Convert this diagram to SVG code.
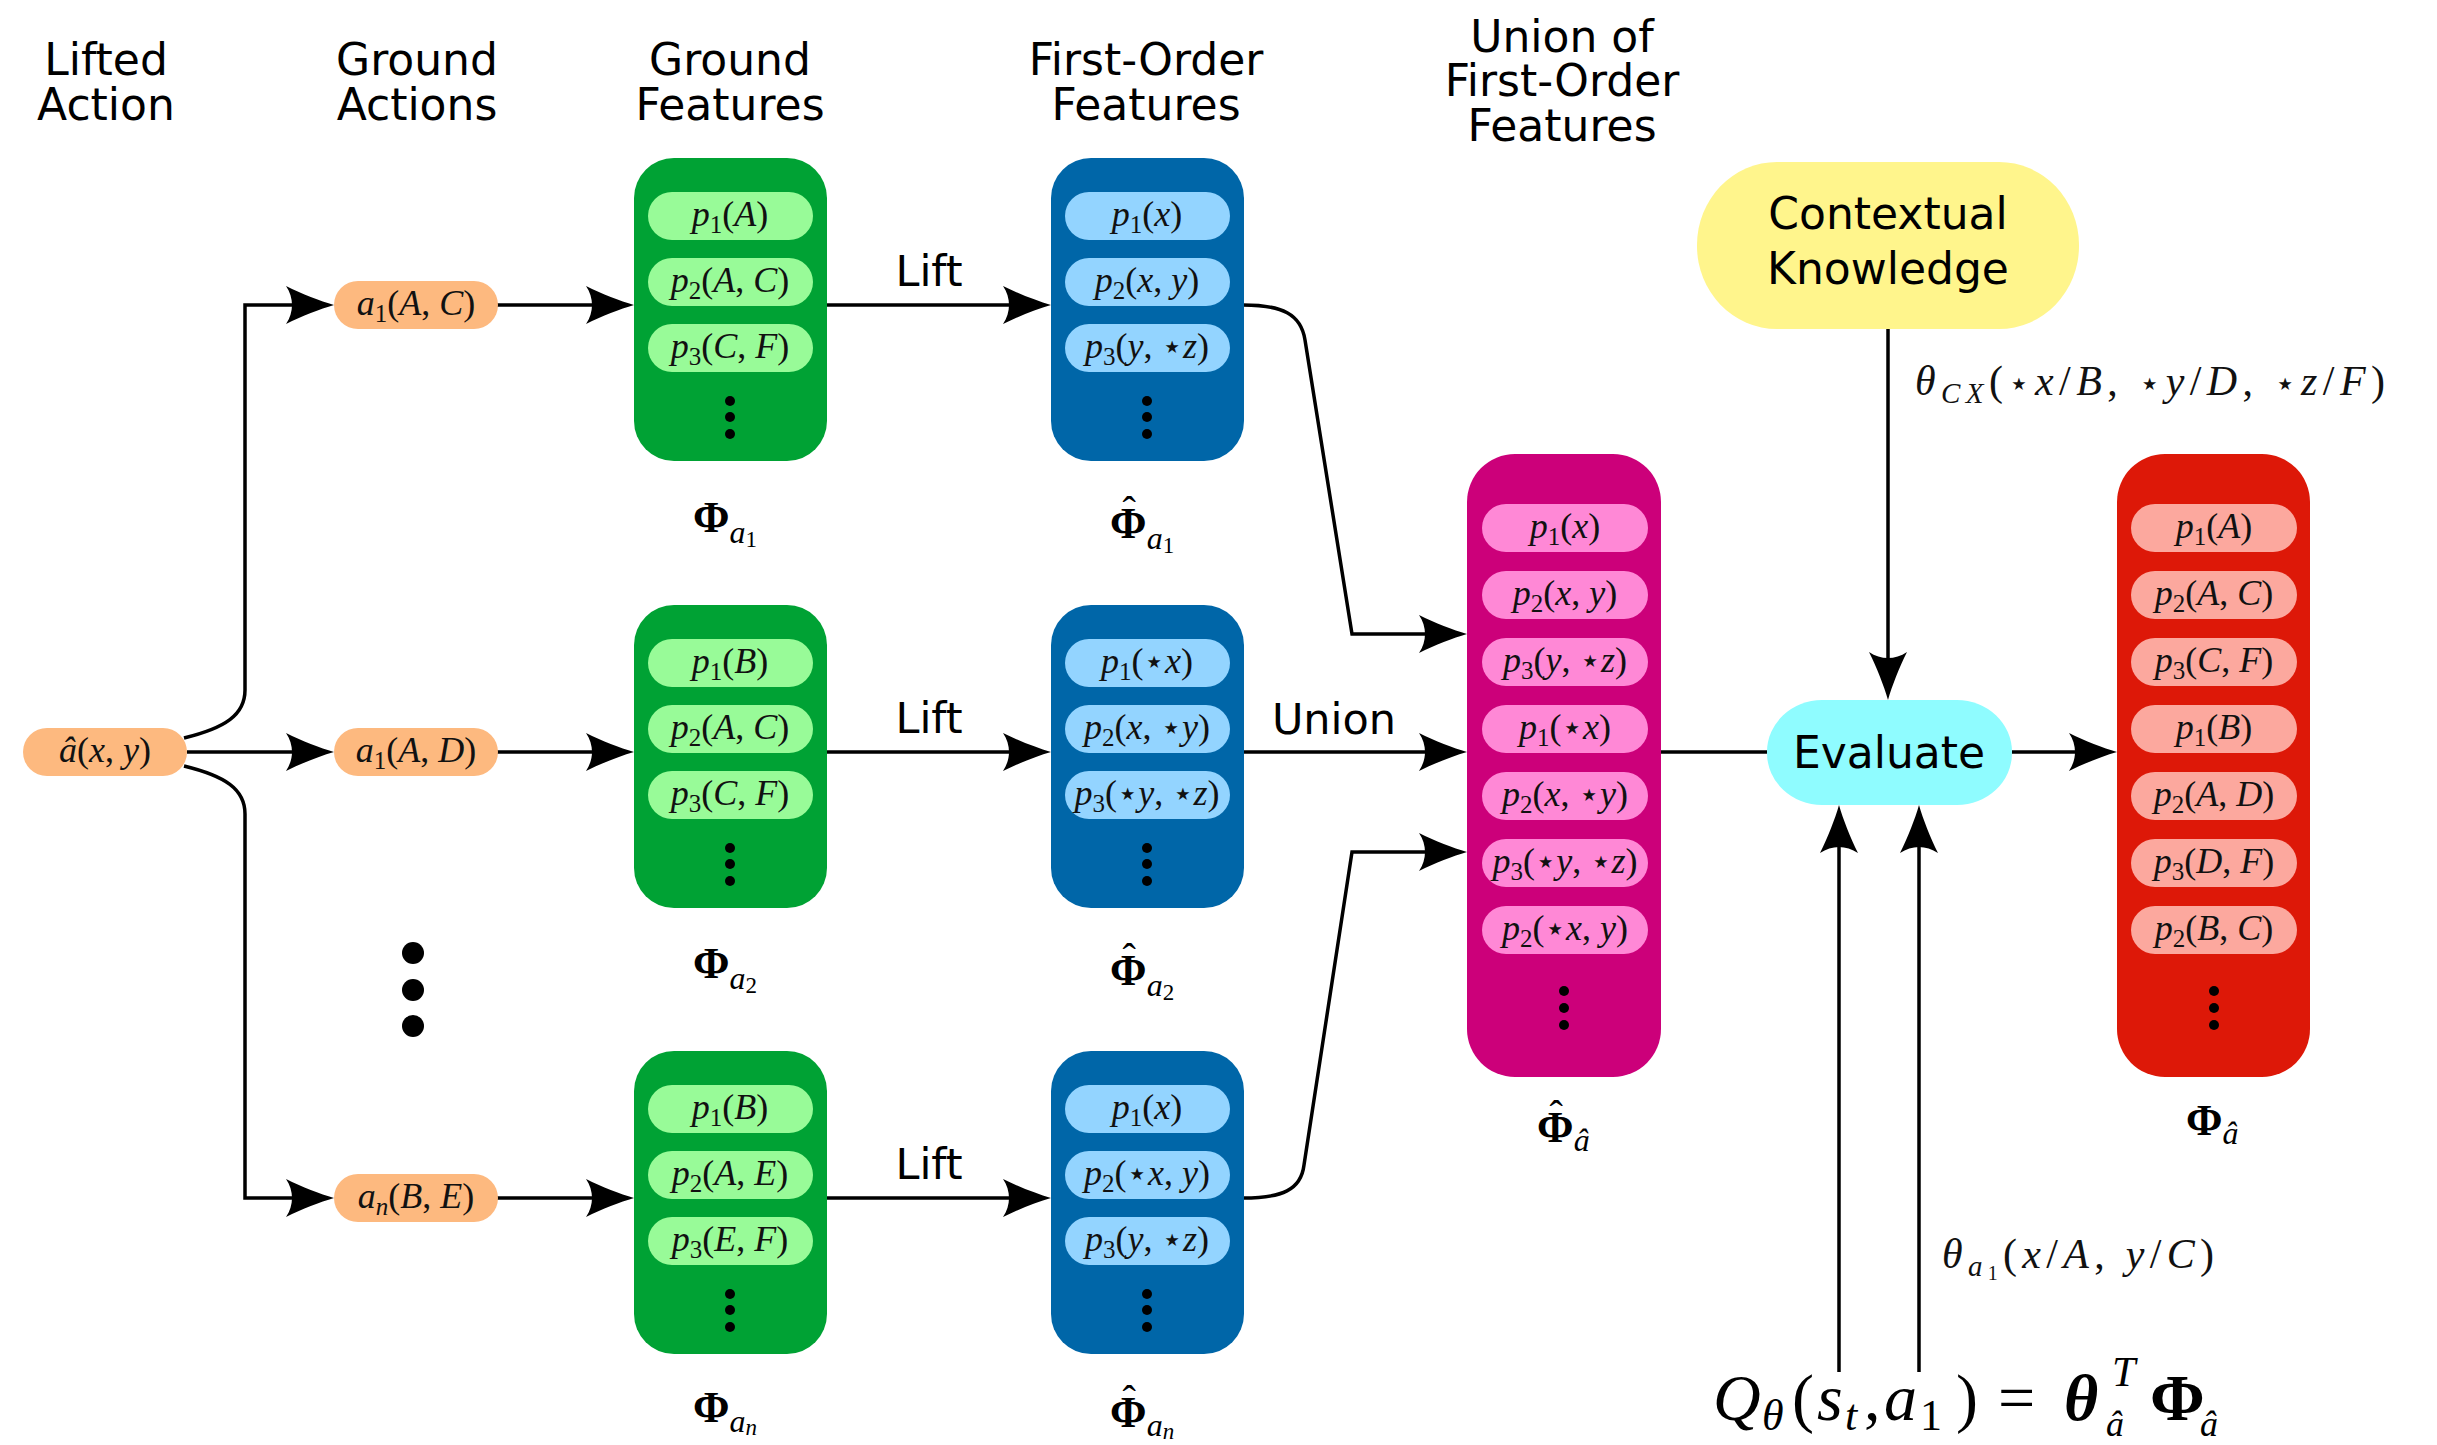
<svg xmlns="http://www.w3.org/2000/svg" width="2437" height="1445" viewBox="0 0 2437 1445">
<style>
.hdr{font-family:"DejaVu Sans",sans-serif;font-size:44px;text-anchor:middle;fill:#000}
.lab{font-family:"DejaVu Sans",sans-serif;font-size:43px;text-anchor:middle;fill:#000}
.m{font-family:"Liberation Serif","DejaVu Serif",serif;font-style:italic;font-size:36px;text-anchor:middle;fill:#111}
.s{font-size:25px;font-style:normal}
.si{font-size:25px}
.r{font-style:normal}
.st{font-family:"DejaVu Sans",sans-serif;font-style:normal;font-size:34px}
.g{fill:#00A234}.gp{fill:#98FB98}
.b{fill:#0066A8}.bp{fill:#93D4FF}
.mg{fill:#CC007A}.mp{fill:#FF88D6}
.rd{fill:#DD1808}.rp{fill:#FCA89E}
.pe{fill:#FDB97F}
.dot{fill:#000}
.conn{fill:none;stroke:#000;stroke-width:3.5}
.phi{font-family:"Liberation Serif","DejaVu Serif",serif;fill:#000}
.P{font-weight:bold;font-size:44px}
.H{font-size:40px;font-weight:normal}
.A{font-style:italic;font-size:32px}
.N{font-size:23px}
</style>
<defs>
<marker id="ah" markerUnits="userSpaceOnUse" markerWidth="60" markerHeight="50" viewBox="-30 -25 60 50" refX="0" refY="0" orient="auto" overflow="visible">
<path d="M20,0 C6,-4 -12,-11 -28,-19 C-20,-7 -20,7 -28,19 C-12,11 6,4 20,0 Z" fill="#000"/>
</marker>
</defs>
<rect width="2437" height="1445" fill="#fff"/>

<g id="headers">
<text class="hdr"><tspan x="106" y="75">Lifted</tspan><tspan x="106" y="120">Action</tspan></text>
<text class="hdr"><tspan x="417" y="75">Ground</tspan><tspan x="417" y="120">Actions</tspan></text>
<text class="hdr"><tspan x="730" y="75">Ground</tspan><tspan x="730" y="120">Features</tspan></text>
<text class="hdr"><tspan x="1146" y="75">First-Order</tspan><tspan x="1146" y="120">Features</tspan></text>
<text class="hdr"><tspan x="1562" y="52">Union of</tspan><tspan x="1562" y="96">First-Order</tspan><tspan x="1562" y="141">Features</tspan></text>
</g>

<g id="connectors">
<path class="conn" d="M184,738 C225,728 245,715 245,690 L245,305 L314,305" marker-end="url(#ah)"/>
<path class="conn" d="M187,752 L314,752" marker-end="url(#ah)"/>
<path class="conn" d="M184,766 C225,776 245,789 245,814 L245,1198 L314,1198" marker-end="url(#ah)"/>
<path class="conn" d="M497,305 L614,305" marker-end="url(#ah)"/>
<path class="conn" d="M497,752 L614,752" marker-end="url(#ah)"/>
<path class="conn" d="M497,1198 L614,1198" marker-end="url(#ah)"/>
<path class="conn" d="M827,305 L1031,305" marker-end="url(#ah)"/>
<path class="conn" d="M827,752 L1031,752" marker-end="url(#ah)"/>
<path class="conn" d="M827,1198 L1031,1198" marker-end="url(#ah)"/>
<path class="conn" d="M1243,305 C1282,305 1301,314 1305,340 L1352,634 L1447,634" marker-end="url(#ah)"/>
<path class="conn" d="M1243,752 L1447,752" marker-end="url(#ah)"/>
<path class="conn" d="M1243,1198 C1282,1198 1301,1190 1304,1165 L1352,852 L1447,852" marker-end="url(#ah)"/>
<path class="conn" d="M1661,752 L1767,752"/>
<path class="conn" d="M2012,752 L2097,752" marker-end="url(#ah)"/>
<path class="conn" d="M1888,329 L1888,680" marker-end="url(#ah)"/>
<path class="conn" d="M1839,1372 L1839,825" marker-end="url(#ah)"/>
<path class="conn" d="M1919,1372 L1919,825" marker-end="url(#ah)"/>
<text class="lab" x="929" y="286">Lift</text>
<text class="lab" x="929" y="733">Lift</text>
<text class="lab" x="929" y="1179">Lift</text>
<text class="lab" x="1334" y="734">Union</text>
<text class="m" x="1915" y="395" style="text-anchor:start;font-size:42px" textLength="470">θ<tspan class="si" style="font-size:29px" dy="8">CX</tspan><tspan class="r" dy="-8">(</tspan><tspan class="st">⋆</tspan>x<tspan class="r">/</tspan>B<tspan class="r">, </tspan><tspan class="st">⋆</tspan>y<tspan class="r">/</tspan>D<tspan class="r">, </tspan><tspan class="st">⋆</tspan>z<tspan class="r">/</tspan>F<tspan class="r">)</tspan></text>
<text class="m" x="1942" y="1268" style="text-anchor:start;font-size:42px" textLength="272">θ<tspan class="si" style="font-size:29px" dy="8">a</tspan><tspan class="s" style="font-size:20px" dy="4">1</tspan><tspan class="r" dy="-12">(</tspan>x<tspan class="r">/</tspan>A<tspan class="r">, </tspan>y<tspan class="r">/</tspan>C<tspan class="r">)</tspan></text>
</g>

<g id="lifted-action">
<rect class="pe" x="23" y="728" width="164" height="48" rx="24"/>
<text class="m" x="105" y="762">â<tspan class="r">(</tspan>x<tspan class="r">, </tspan>y<tspan class="r">)</tspan></text>
</g>

<g id="ground-action-1">
<rect class="pe" x="334" y="281" width="164" height="48" rx="24"/>
<text class="m" x="416" y="315">a<tspan class="s" dy="7">1</tspan><tspan class="r" dy="-7">(</tspan>A<tspan class="r">, </tspan>C<tspan class="r">)</tspan></text>
</g>
<g id="ground-action-2">
<rect class="pe" x="334" y="728" width="164" height="48" rx="24"/>
<text class="m" x="416" y="762">a<tspan class="s" dy="7">1</tspan><tspan class="r" dy="-7">(</tspan>A<tspan class="r">, </tspan>D<tspan class="r">)</tspan></text>
</g>
<g id="ground-action-n">
<rect class="pe" x="334" y="1174" width="164" height="48" rx="24"/>
<text class="m" x="416" y="1208">a<tspan class="si" dy="7">n</tspan><tspan class="r" dy="-7">(</tspan>B<tspan class="r">, </tspan>E<tspan class="r">)</tspan></text>
</g>
<g id="ellipsis">
<circle class="dot" cx="413" cy="953" r="11"/>
<circle class="dot" cx="413" cy="990" r="11"/>
<circle class="dot" cx="413" cy="1026" r="11"/>
</g>

<g id="ground-features-1">
<rect class="g" x="634" y="158" width="193" height="303" rx="40"/>
<rect class="gp" x="648" y="192" width="165" height="48" rx="24"/>
<rect class="gp" x="648" y="258" width="165" height="48" rx="24"/>
<rect class="gp" x="648" y="324" width="165" height="48" rx="24"/>
<text class="m" x="730" y="226">p<tspan class="s" dy="7">1</tspan><tspan class="r" dy="-7">(</tspan>A<tspan class="r">)</tspan></text>
<text class="m" x="730" y="292">p<tspan class="s" dy="7">2</tspan><tspan class="r" dy="-7">(</tspan>A<tspan class="r">, </tspan>C<tspan class="r">)</tspan></text>
<text class="m" x="730" y="358">p<tspan class="s" dy="7">3</tspan><tspan class="r" dy="-7">(</tspan>C<tspan class="r">, </tspan>F<tspan class="r">)</tspan></text>
<circle class="dot" cx="730" cy="401" r="5"/><circle class="dot" cx="730" cy="417" r="5"/><circle class="dot" cx="730" cy="434" r="5"/>
<text class="phi" x="693" y="532"><tspan class="P">Φ</tspan><tspan class="A" dy="11">a</tspan><tspan class="N" dy="4">1</tspan></text>
</g>
<g id="ground-features-2">
<rect class="g" x="634" y="605" width="193" height="303" rx="40"/>
<rect class="gp" x="648" y="639" width="165" height="48" rx="24"/>
<rect class="gp" x="648" y="705" width="165" height="48" rx="24"/>
<rect class="gp" x="648" y="771" width="165" height="48" rx="24"/>
<text class="m" x="730" y="673">p<tspan class="s" dy="7">1</tspan><tspan class="r" dy="-7">(</tspan>B<tspan class="r">)</tspan></text>
<text class="m" x="730" y="739">p<tspan class="s" dy="7">2</tspan><tspan class="r" dy="-7">(</tspan>A<tspan class="r">, </tspan>C<tspan class="r">)</tspan></text>
<text class="m" x="730" y="805">p<tspan class="s" dy="7">3</tspan><tspan class="r" dy="-7">(</tspan>C<tspan class="r">, </tspan>F<tspan class="r">)</tspan></text>
<circle class="dot" cx="730" cy="848" r="5"/><circle class="dot" cx="730" cy="864" r="5"/><circle class="dot" cx="730" cy="881" r="5"/>
<text class="phi" x="693" y="978"><tspan class="P">Φ</tspan><tspan class="A" dy="11">a</tspan><tspan class="N" dy="4">2</tspan></text>
</g>
<g id="ground-features-n">
<rect class="g" x="634" y="1051" width="193" height="303" rx="40"/>
<rect class="gp" x="648" y="1085" width="165" height="48" rx="24"/>
<rect class="gp" x="648" y="1151" width="165" height="48" rx="24"/>
<rect class="gp" x="648" y="1217" width="165" height="48" rx="24"/>
<text class="m" x="730" y="1119">p<tspan class="s" dy="7">1</tspan><tspan class="r" dy="-7">(</tspan>B<tspan class="r">)</tspan></text>
<text class="m" x="730" y="1185">p<tspan class="s" dy="7">2</tspan><tspan class="r" dy="-7">(</tspan>A<tspan class="r">, </tspan>E<tspan class="r">)</tspan></text>
<text class="m" x="730" y="1251">p<tspan class="s" dy="7">3</tspan><tspan class="r" dy="-7">(</tspan>E<tspan class="r">, </tspan>F<tspan class="r">)</tspan></text>
<circle class="dot" cx="730" cy="1294" r="5"/><circle class="dot" cx="730" cy="1310" r="5"/><circle class="dot" cx="730" cy="1327" r="5"/>
<text class="phi" x="693" y="1422"><tspan class="P">Φ</tspan><tspan class="A" dy="10">a</tspan><tspan class="N" font-style="italic" dy="3">n</tspan></text>
</g>

<g id="first-order-1">
<rect class="b" x="1051" y="158" width="193" height="303" rx="40"/>
<rect class="bp" x="1065" y="192" width="165" height="48" rx="24"/>
<rect class="bp" x="1065" y="258" width="165" height="48" rx="24"/>
<rect class="bp" x="1065" y="324" width="165" height="48" rx="24"/>
<text class="m" x="1147" y="226">p<tspan class="s" dy="7">1</tspan><tspan class="r" dy="-7">(</tspan>x<tspan class="r">)</tspan></text>
<text class="m" x="1147" y="292">p<tspan class="s" dy="7">2</tspan><tspan class="r" dy="-7">(</tspan>x<tspan class="r">, </tspan>y<tspan class="r">)</tspan></text>
<text class="m" x="1147" y="358">p<tspan class="s" dy="7">3</tspan><tspan class="r" dy="-7">(</tspan>y<tspan class="r">, </tspan><tspan class="st">⋆</tspan>z<tspan class="r">)</tspan></text>
<circle class="dot" cx="1147" cy="401" r="5"/><circle class="dot" cx="1147" cy="417" r="5"/><circle class="dot" cx="1147" cy="434" r="5"/>
<text class="phi" x="1110" y="538"><tspan class="P">Φ</tspan><tspan class="H" dx="-24" dy="-14">ˆ</tspan><tspan class="A" dx="11" dy="25">a</tspan><tspan class="N" dy="4">1</tspan></text>
</g>
<g id="first-order-2">
<rect class="b" x="1051" y="605" width="193" height="303" rx="40"/>
<rect class="bp" x="1065" y="639" width="165" height="48" rx="24"/>
<rect class="bp" x="1065" y="705" width="165" height="48" rx="24"/>
<rect class="bp" x="1065" y="771" width="165" height="48" rx="24"/>
<text class="m" x="1147" y="673">p<tspan class="s" dy="7">1</tspan><tspan class="r" dy="-7">(</tspan><tspan class="st">⋆</tspan>x<tspan class="r">)</tspan></text>
<text class="m" x="1147" y="739">p<tspan class="s" dy="7">2</tspan><tspan class="r" dy="-7">(</tspan>x<tspan class="r">, </tspan><tspan class="st">⋆</tspan>y<tspan class="r">)</tspan></text>
<text class="m" x="1147" y="805">p<tspan class="s" dy="7">3</tspan><tspan class="r" dy="-7">(</tspan><tspan class="st">⋆</tspan>y<tspan class="r">, </tspan><tspan class="st">⋆</tspan>z<tspan class="r">)</tspan></text>
<circle class="dot" cx="1147" cy="848" r="5"/><circle class="dot" cx="1147" cy="864" r="5"/><circle class="dot" cx="1147" cy="881" r="5"/>
<text class="phi" x="1110" y="985"><tspan class="P">Φ</tspan><tspan class="H" dx="-24" dy="-14">ˆ</tspan><tspan class="A" dx="11" dy="25">a</tspan><tspan class="N" dy="4">2</tspan></text>
</g>
<g id="first-order-n">
<rect class="b" x="1051" y="1051" width="193" height="303" rx="40"/>
<rect class="bp" x="1065" y="1085" width="165" height="48" rx="24"/>
<rect class="bp" x="1065" y="1151" width="165" height="48" rx="24"/>
<rect class="bp" x="1065" y="1217" width="165" height="48" rx="24"/>
<text class="m" x="1147" y="1119">p<tspan class="s" dy="7">1</tspan><tspan class="r" dy="-7">(</tspan>x<tspan class="r">)</tspan></text>
<text class="m" x="1147" y="1185">p<tspan class="s" dy="7">2</tspan><tspan class="r" dy="-7">(</tspan><tspan class="st">⋆</tspan>x<tspan class="r">, </tspan>y<tspan class="r">)</tspan></text>
<text class="m" x="1147" y="1251">p<tspan class="s" dy="7">3</tspan><tspan class="r" dy="-7">(</tspan>y<tspan class="r">, </tspan><tspan class="st">⋆</tspan>z<tspan class="r">)</tspan></text>
<circle class="dot" cx="1147" cy="1294" r="5"/><circle class="dot" cx="1147" cy="1310" r="5"/><circle class="dot" cx="1147" cy="1327" r="5"/>
<text class="phi" x="1110" y="1427"><tspan class="P">Φ</tspan><tspan class="H" dx="-24" dy="-14">ˆ</tspan><tspan class="A" dx="11" dy="23">a</tspan><tspan class="N" font-style="italic" dy="3">n</tspan></text>
</g>

<g id="union-features">
<rect class="mg" x="1467" y="454" width="194" height="623" rx="48"/>
<rect class="mp" x="1482" y="504" width="166" height="48" rx="24"/>
<rect class="mp" x="1482" y="571" width="166" height="48" rx="24"/>
<rect class="mp" x="1482" y="638" width="166" height="48" rx="24"/>
<rect class="mp" x="1482" y="705" width="166" height="48" rx="24"/>
<rect class="mp" x="1482" y="772" width="166" height="48" rx="24"/>
<rect class="mp" x="1482" y="839" width="166" height="48" rx="24"/>
<rect class="mp" x="1482" y="906" width="166" height="48" rx="24"/>
<text class="m" x="1565" y="538">p<tspan class="s" dy="7">1</tspan><tspan class="r" dy="-7">(</tspan>x<tspan class="r">)</tspan></text>
<text class="m" x="1565" y="605">p<tspan class="s" dy="7">2</tspan><tspan class="r" dy="-7">(</tspan>x<tspan class="r">, </tspan>y<tspan class="r">)</tspan></text>
<text class="m" x="1565" y="672">p<tspan class="s" dy="7">3</tspan><tspan class="r" dy="-7">(</tspan>y<tspan class="r">, </tspan><tspan class="st">⋆</tspan>z<tspan class="r">)</tspan></text>
<text class="m" x="1565" y="739">p<tspan class="s" dy="7">1</tspan><tspan class="r" dy="-7">(</tspan><tspan class="st">⋆</tspan>x<tspan class="r">)</tspan></text>
<text class="m" x="1565" y="806">p<tspan class="s" dy="7">2</tspan><tspan class="r" dy="-7">(</tspan>x<tspan class="r">, </tspan><tspan class="st">⋆</tspan>y<tspan class="r">)</tspan></text>
<text class="m" x="1565" y="873">p<tspan class="s" dy="7">3</tspan><tspan class="r" dy="-7">(</tspan><tspan class="st">⋆</tspan>y<tspan class="r">, </tspan><tspan class="st">⋆</tspan>z<tspan class="r">)</tspan></text>
<text class="m" x="1565" y="940">p<tspan class="s" dy="7">2</tspan><tspan class="r" dy="-7">(</tspan><tspan class="st">⋆</tspan>x<tspan class="r">, </tspan>y<tspan class="r">)</tspan></text>
<circle class="dot" cx="1564" cy="991" r="5"/><circle class="dot" cx="1564" cy="1008" r="5"/><circle class="dot" cx="1564" cy="1025" r="5"/>
<text class="phi" x="1537" y="1142"><tspan class="P">Φ</tspan><tspan class="H" dx="-24" dy="-14">ˆ</tspan><tspan class="A" dx="11" dy="23">â</tspan></text>
</g>

<g id="contextual-knowledge">
<rect x="1697" y="162" width="382" height="167" rx="80" ry="83" fill="#FFF58C"/>
<text class="hdr"><tspan x="1888" y="229">Contextual</tspan><tspan x="1888" y="284">Knowledge</tspan></text>
</g>

<g id="evaluate">
<rect x="1767" y="700" width="245" height="105" rx="55" ry="52" fill="#8FFCFF"/>
<text class="hdr" x="1889" y="768">Evaluate</text>
</g>

<g id="evaluated-features">
<rect class="rd" x="2117" y="454" width="193" height="623" rx="48"/>
<rect class="rp" x="2131" y="504" width="166" height="48" rx="24"/>
<rect class="rp" x="2131" y="571" width="166" height="48" rx="24"/>
<rect class="rp" x="2131" y="638" width="166" height="48" rx="24"/>
<rect class="rp" x="2131" y="705" width="166" height="48" rx="24"/>
<rect class="rp" x="2131" y="772" width="166" height="48" rx="24"/>
<rect class="rp" x="2131" y="839" width="166" height="48" rx="24"/>
<rect class="rp" x="2131" y="906" width="166" height="48" rx="24"/>
<text class="m" x="2214" y="538">p<tspan class="s" dy="7">1</tspan><tspan class="r" dy="-7">(</tspan>A<tspan class="r">)</tspan></text>
<text class="m" x="2214" y="605">p<tspan class="s" dy="7">2</tspan><tspan class="r" dy="-7">(</tspan>A<tspan class="r">, </tspan>C<tspan class="r">)</tspan></text>
<text class="m" x="2214" y="672">p<tspan class="s" dy="7">3</tspan><tspan class="r" dy="-7">(</tspan>C<tspan class="r">, </tspan>F<tspan class="r">)</tspan></text>
<text class="m" x="2214" y="739">p<tspan class="s" dy="7">1</tspan><tspan class="r" dy="-7">(</tspan>B<tspan class="r">)</tspan></text>
<text class="m" x="2214" y="806">p<tspan class="s" dy="7">2</tspan><tspan class="r" dy="-7">(</tspan>A<tspan class="r">, </tspan>D<tspan class="r">)</tspan></text>
<text class="m" x="2214" y="873">p<tspan class="s" dy="7">3</tspan><tspan class="r" dy="-7">(</tspan>D<tspan class="r">, </tspan>F<tspan class="r">)</tspan></text>
<text class="m" x="2214" y="940">p<tspan class="s" dy="7">2</tspan><tspan class="r" dy="-7">(</tspan>B<tspan class="r">, </tspan>C<tspan class="r">)</tspan></text>
<circle class="dot" cx="2214" cy="991" r="5"/><circle class="dot" cx="2214" cy="1008" r="5"/><circle class="dot" cx="2214" cy="1025" r="5"/>
<text class="phi" x="2186" y="1135"><tspan class="P">Φ</tspan><tspan class="A" dy="9">â</tspan></text>
</g>

<g id="q-formula">
<text class="phi" y="1420" font-size="66"><tspan x="1713" font-style="italic">Q</tspan><tspan x="1762" y="1430" font-style="italic" font-size="44">θ</tspan><tspan x="1792" y="1420">(</tspan><tspan x="1817" font-style="italic">s</tspan><tspan x="1845" y="1430" font-style="italic" font-size="44">t</tspan><tspan x="1864" y="1420">,</tspan><tspan x="1884" font-style="italic">a</tspan><tspan x="1920" y="1430" font-size="44">1</tspan><tspan x="1956" y="1420">)</tspan><tspan x="1998">=</tspan><tspan x="2064" font-style="italic" font-weight="bold">θ</tspan><tspan x="2112" y="1386" font-style="italic" font-size="42">T</tspan><tspan x="2106" y="1436" font-style="italic" font-size="36">â</tspan><tspan x="2150" y="1420" font-weight="bold">Φ</tspan><tspan x="2200" y="1436" font-style="italic" font-size="36">â</tspan></text>
</g>
</svg>
